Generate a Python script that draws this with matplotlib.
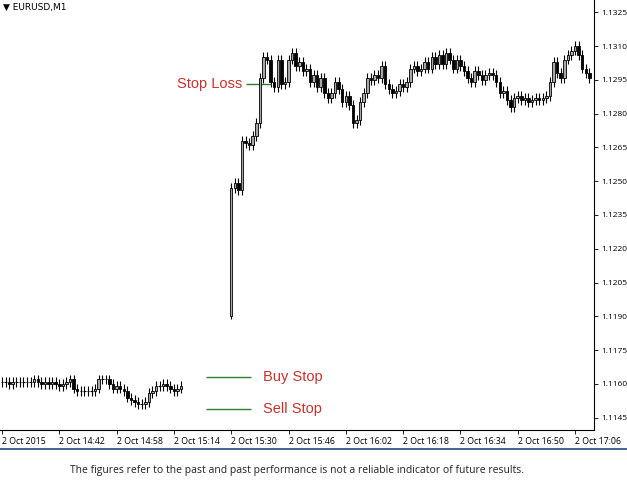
import matplotlib
matplotlib.use("Agg")
import matplotlib.pyplot as plt
import numpy as np

# minute offsets from 14:26
seg1_start = 0
seg1_close = [1.1161,1.1161,1.1160,1.1161,1.1161,1.1161,1.1161,1.1161,1.1161,1.1162,1.1161,1.1160,1.1161,
              1.1160,1.1161,1.1160,1.1159,1.1160,1.1161,1.1162,1.1158,1.1157,1.1157,1.1157,1.1157,1.1157,
              1.1158,1.1162,1.1162,1.1162,1.1160,1.1158,1.1159,1.1158,1.1157,1.1154,1.1153,1.1152,1.1151,
              1.1151,1.1152,1.1156,1.1157,1.1159,1.1159,1.1160,1.1159,1.1158,1.1157,1.1158,1.1159]
seg1_open0 = 1.1161
seg2_start = 64
seg2_close = [1.1247,1.1249,1.1246,1.1268,1.1267,1.1266,1.1270,1.1276,1.1296,1.1305,1.1304,1.1294,1.1292,
              1.1304,1.1293,1.1294,1.1304,1.1307,1.1301,1.1303,1.1299,1.1300,1.1294,1.1297,1.1292,1.1296,
              1.1289,1.1287,1.1289,1.1294,1.1291,1.1285,1.1288,1.1284,1.1276,1.1277,1.1285,1.1289,1.1296,
              1.1295,1.1297,1.1296,1.1301,1.1293,1.1291,1.1289,1.1290,1.1293,1.1292,1.1294,1.1300,1.1301,
              1.1299,1.1300,1.1303,1.1300,1.1305,1.1302,1.1306,1.1302,1.1307,1.1304,1.1300,1.1304,1.1301,
              1.1299,1.1296,1.1294,1.1299,1.1297,1.1295,1.1297,1.1298,1.1297,1.1294,1.1289,1.1290,1.1286,
              1.1283,1.1287,1.1288,1.1286,1.1287,1.1285,1.1286,1.1287,1.1286,1.1287,1.1288,1.1294,1.1303,
              1.1298,1.1296,1.1304,1.1306,1.1308,1.1310,1.1306,1.1300,1.1298,1.1296]
seg2_open0 = 1.1190
wick = 0.00022
spike_low = 1.1189

xtick_labels = ["2 Oct 2015","2 Oct 14:42","2 Oct 14:58","2 Oct 15:14","2 Oct 15:30","2 Oct 15:46",
                "2 Oct 16:02","2 Oct 16:18","2 Oct 16:34","2 Oct 16:50","2 Oct 17:06"]
ytick_values = [1.1145,1.1160,1.1175,1.1190,1.1205,1.1220,1.1235,1.1250,1.1265,1.1280,1.1295,1.1310,1.1325]
levels = {"Stop Loss": 1.1293, "Buy Stop": 1.1163, "Sell Stop": 1.1149}

fig = plt.figure(figsize=(6.27,4.94), dpi=100)
ax = fig.add_axes([0, 1-430/494, 594/627, 430/494])

def draw(start, open0, closes, first_low=None):
    o = open0
    for i, c in enumerate(closes):
        x = start + i
        hi = max(o, c) + wick
        lo = min(o, c) - wick
        if i == 0 and first_low is not None:
            lo = first_low
        ax.vlines(x, lo, hi, color="black", lw=0.8, zorder=2)
        bull = c >= o
        h = abs(c - o)
        if h < 0.00003:
            ax.hlines(c, x-0.35, x+0.35, color="black", lw=0.8, zorder=3)
        else:
            ax.bar(x, h, bottom=min(o, c), width=0.7, color="#a8a8a8" if bull else "black",
                   edgecolor="black", linewidth=0.6, zorder=3)
        o = c

draw(seg1_start, seg1_open0, seg1_close)
draw(seg2_start, seg2_open0, seg2_close, spike_low)

red = "#c8312d"
green = "#2e7d32"
tf = dict(fontsize=10.5, family="Liberation Sans", color=red, va="center")
ax.hlines(levels["Stop Loss"], 68, 75, color=green, lw=1)
ax.text(67, levels["Stop Loss"], "Stop Loss", ha="right", **tf)
ax.hlines(levels["Buy Stop"], 57, 69.5, color=green, lw=1)
ax.text(73, levels["Buy Stop"], "Buy Stop", ha="left", **tf)
ax.hlines(levels["Sell Stop"], 57, 69.5, color=green, lw=1)
ax.text(73, levels["Sell Stop"], "Sell Stop", ha="left", **tf)

ax.set_xlim(-0.56, 165.3)
ax.set_ylim(1.1310-384/22533, 1.1310+46/22533)
ax.yaxis.tick_right()
ax.set_yticks(ytick_values)
ax.set_yticklabels([f"{v:.4f}" for v in ytick_values], fontsize=6, family="Open Sans")
ax.set_xticks(np.arange(0, 161, 16))
ax.set_xticklabels(xtick_labels, fontsize=6.3, ha="left", family="Open Sans")
ax.tick_params(axis="y", length=3, width=0.6, pad=2)
ax.tick_params(axis="x", length=3, width=0.6, pad=2)
for s in ["top", "left"]:
    ax.spines[s].set_visible(False)
ax.spines["right"].set_linewidth(0.8)
ax.spines["bottom"].set_linewidth(0.8)

fig.text(0.005, 1-7/494, "\u25bc EURUSD,M1", fontsize=6.5, va="center", family="DejaVu Sans")
fig.add_artist(plt.Line2D([0, 1], [1-449/494]*2, color="#1f4e79", lw=1.2))
fig.text(297/627, 1-471/494, "The figures refer to the past and past performance is not a reliable indicator of future results.",
         fontsize=7.5, ha="center", va="center", family="Open Sans", color="#222222")
fig.savefig("out.png", dpi=100)
